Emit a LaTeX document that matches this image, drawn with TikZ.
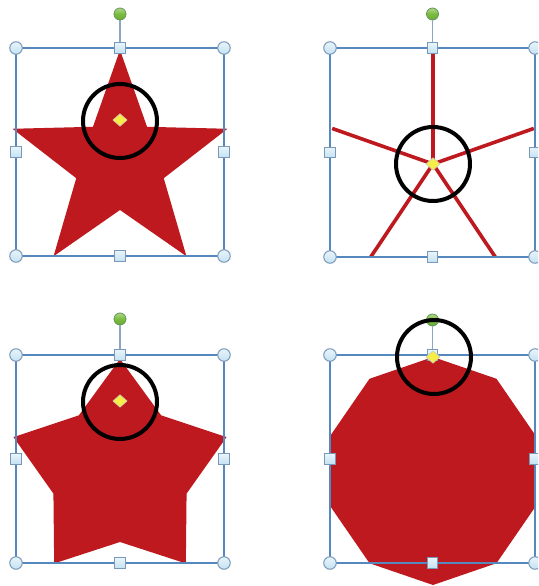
\documentclass[tikz,border=0pt]{standalone}
\usetikzlibrary{shapes.geometric}
\definecolor{starred}{RGB}{190,25,30}
\definecolor{boxblue}{RGB}{84,136,190}
\definecolor{handlefill}{RGB}{196,226,242}
\definecolor{handletop}{RGB}{232,244,250}
\definecolor{handleedge}{RGB}{122,152,184}
\definecolor{rotgreen}{RGB}{122,188,62}
\definecolor{rotedge}{RGB}{96,150,84}
\definecolor{adjyellow}{RGB}{244,238,70}
\definecolor{adjedge}{RGB}{215,210,170}
\definecolor{rotline}{RGB}{140,165,192}
\tikzset{
  boxframe/.style={draw=boxblue, line width=1.3pt},
  cornerhandle/.style={circle, inner sep=0pt, minimum size=12.5pt, draw=handleedge, line width=1pt, top color=handletop, bottom color=handlefill},
  sidehandle/.style={rectangle, inner sep=0pt, minimum size=10.5pt, draw=handleedge, line width=1pt, top color=handletop, bottom color=handlefill},
  rothandle/.style={circle, inner sep=0pt, minimum size=12pt, draw=rotedge, line width=0.8pt, top color=rotgreen!60!white, bottom color=rotgreen!90!black, middle color=rotgreen},
  rotstem/.style={draw=rotline, line width=1.6pt},
  adjhandle/.style={diamond, inner sep=0pt, minimum width=14pt, minimum height=12.5pt, draw=adjedge, line width=0.8pt, fill=adjyellow},
  ring/.style={circle, inner sep=0pt, minimum size=74pt, draw=black, line width=4pt},
  spoke/.style={draw=starred, line width=3.6pt},
  redshape/.style={fill=starred}
}
% star: cx, cy, Rx, Ry, rx, ry
\newcommand\mystarshape[6]{%
 \fill[redshape] ({#1+#3*cos(90)},{#2-#4*sin(90)})
 -- ({#1+#5*cos(54)},{#2-#6*sin(54)})
 -- ({#1+#3*cos(18)},{#2-#4*sin(18)})
 -- ({#1+#5*cos(-18)},{#2-#6*sin(-18)})
 -- ({#1+#3*cos(-54)},{#2-#4*sin(-54)})
 -- ({#1+#5*cos(-90)},{#2-#6*sin(-90)})
 -- ({#1+#3*cos(-126)},{#2-#4*sin(-126)})
 -- ({#1+#5*cos(-162)},{#2-#6*sin(-162)})
 -- ({#1+#3*cos(162)},{#2-#4*sin(162)})
 -- ({#1+#5*cos(126)},{#2-#6*sin(126)})
 -- cycle;}
% selection frame: prefix, left, top, right, bottom, rotation-handle y
\newcommand\myframe[6]{%
 \draw[boxframe] (#2,#3) rectangle (#4,#5);
 \node[rothandle] (#1rot) at ({(#2+#4)/2},#6) {};
 \node[sidehandle] (#1t) at ({(#2+#4)/2},#3) {};
 \draw[rotstem] (#1rot) -- (#1t);
 \node[sidehandle] (#1t) at ({(#2+#4)/2},#3) {};
 \node[sidehandle] (#1b) at ({(#2+#4)/2},#5) {};
 \node[sidehandle] (#1l) at (#2,{(#3+#5)/2}) {};
 \node[sidehandle] (#1r) at (#4,{(#3+#5)/2}) {};
 \node[cornerhandle] (#1tl) at (#2,#3) {};
 \node[cornerhandle] (#1tr) at (#4,#3) {};
 \node[cornerhandle] (#1bl) at (#2,#5) {};
 \node[cornerhandle] (#1br) at (#4,#5) {};}
\begin{document}
\begin{tikzpicture}[x=1pt,y=-1pt]
\clip (0,0) rectangle (538,586);
\fill[white] (0,0) rectangle (538,586);

% ---- panel 1: star, small inner radius
\mystarshape{120}{164}{113}{114}{46}{46}
\myframe{a}{16}{48}{224}{256}{14}
\node[adjhandle] (aadj) at (120,120) {};
\node[ring] (aring) at (120,121) {};

% ---- panel 2: inner radius zero (spokes)
\coordinate (bc) at (433,164);
\coordinate (bp1) at ({433+106*cos(90)},{164-115*sin(90)});
\coordinate (bp2) at ({433+106*cos(18)},{164-115*sin(18)});
\coordinate (bp3) at ({433+106*cos(-54)},{164-115*sin(-54)});
\coordinate (bp4) at ({433+106*cos(-126)},{164-115*sin(-126)});
\coordinate (bp5) at ({433+106*cos(162)},{164-115*sin(162)});
\foreach \p in {bp1,bp2,bp3,bp4,bp5} \draw[spoke] (bc) -- (\p);
\myframe{b}{330}{48}{535}{257}{14}
\node[adjhandle] (badj) at (433,164) {};
\node[ring] (bring) at (433,164) {};

% ---- panel 3: star, large inner radius
\mystarshape{120}{472}{112}{113}{70}{70}
\myframe{c}{16}{355}{224}{563}{319}
\node[adjhandle] (cadj) at (120,401) {};
\node[ring] (cring) at (120,402) {};

% ---- panel 4: inner radius = outer radius (decagon)
\mystarshape{433}{471}{108}{114}{108}{114}
\myframe{d}{330}{355}{535}{563}{320}
\node[adjhandle] (dadj) at (433,357) {};
\node[ring] (dring) at (434,357) {};
\end{tikzpicture}
\end{document}
